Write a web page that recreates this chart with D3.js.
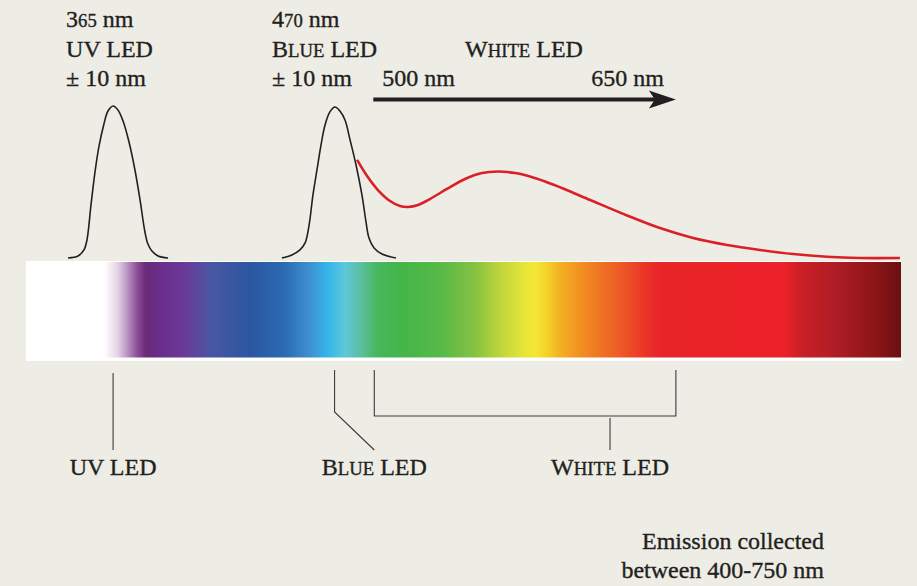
<html>
<head>
<script src="https://d3js.org/d3.v7.min.js"></script>
<style type="text/css">
    body { margin: 0; background: #edede6; }
    text { font-family: "Liberation Serif", "Times New Roman", serif; fill: #231f20; stroke: #231f20; stroke-width: 0.35; }
    .peak { fill: none; stroke: #231f20; stroke-width: 1.6; }
    .white { fill: none; stroke: #dc1f26; stroke-width: 2.6; }
    .guide { fill: none; stroke: #3a3a3a; stroke-width: 1.1; }
</style>
</head>
<body>
<svg id="chart"></svg>
<script>
var W = 917, H = 586;

// LED centres and white-LED band (nm, as drawn)
var uvCenter = 365, blueCenter = 470;
var whiteBand = [488, 630];
var whiteLabelAt = 599;

// emission profiles: [wavelength nm, relative intensity]
var uvPeak = [
    [343.8, 0], [348.5, 0.013], [351.3, 0.053], [352.7, 0.118], [354.6, 0.349],
    [356.5, 0.566], [358.4, 0.737], [360.7, 0.882], [362.6, 0.967], [365.0, 1],
    [367.3, 0.974], [369.7, 0.901], [372.5, 0.763], [375.3, 0.579], [377.7, 0.382],
    [380.0, 0.171], [381.4, 0.092], [383.3, 0.046], [386.2, 0.013], [390.9, 0]
];
var bluePeak = [
    [444.5, 0], [449.2, 0.02], [453.0, 0.053], [455.4, 0.099], [457.3, 0.217],
    [459.1, 0.414], [461.0, 0.579], [462.9, 0.743], [464.8, 0.875], [467.1, 0.961],
    [469.5, 0.993], [471.8, 0.967], [474.2, 0.908], [476.6, 0.776], [479.4, 0.612],
    [482.2, 0.414], [484.1, 0.237], [485.5, 0.132], [487.9, 0.066], [491.6, 0.026],
    [498.2, 0]
];
var whiteCurve = [
    [479.9, 0.645], [484.6, 0.539], [489.7, 0.447], [495.4, 0.375], [500.1, 0.342],
    [503.9, 0.336], [508.6, 0.349], [514.2, 0.388], [522.2, 0.454], [530.7, 0.520],
    [538.7, 0.559], [546.3, 0.569], [554.3, 0.559], [561.3, 0.536], [568.4, 0.503],
    [576.9, 0.457], [589.6, 0.382], [607.0, 0.280], [622.5, 0.197], [638.1, 0.132],
    [654.1, 0.086], [669.6, 0.053], [685.2, 0.026], [701.2, 0.008], [716.7, 0],
    [735.5, 0]
];

// spectrum bar colour stops: [wavelength nm, colour]
var spectrumStops = [
    [324, "#ffffff"], [361, "#ffffff"], [367, "#e6d4e6"], [372, "#b690bf"],
    [376.7, "#8a4a96"], [380.5, "#6b2a78"], [389.4, "#6a2f8e"], [399, "#6a3a98"],
    [410.6, "#4a56a2"], [429.5, "#2c56a1"], [446, "#2a6bb2"], [457.7, "#3f91d0"],
    [466.2, "#34b6ea"], [474.2, "#5fc7da"], [481.3, "#5cbfa2"], [489.7, "#48b65c"],
    [500.1, "#44b549"], [519, "#56b948"], [535.4, "#86c242"], [547.2, "#bed53a"],
    [556.6, "#dfe23b"], [563.7, "#f5e834"], [569.8, "#f4cf29"], [575.4, "#f3b022"],
    [589.6, "#f08221"], [603.7, "#ed5a26"], [615.5, "#ea3526"], [622.5, "#e82428"],
    [681.4, "#ec2129"], [688.4, "#cb2026"], [707.3, "#ab1c25"], [721.4, "#911618"],
    [736, "#6c0f12"]
];

var topLabels = {
    uv: ["365 nm", "UV LED", "\u00b1 10 nm"],
    blue: ["470 nm", "BLUE LED", "\u00b1 10 nm"]
};
var bandLabels = ["500 nm", "650 nm"];
var footnote = ["Emission collected", "between 400-750 nm"];

var svg = d3.select("#chart").attr("width", W).attr("height", H);
svg.append("rect").attr("width", W).attr("height", H).attr("fill", "#edede6");

var x = d3.scaleLinear().domain([324, 736]).range([26, 901]);
var y = d3.scaleLinear().domain([0, 1]).range([258, 106]);

// spectrum bar
var grad = svg.append("defs").append("linearGradient")
    .attr("id", "spec").attr("gradientUnits", "userSpaceOnUse")
    .attr("x1", x(324)).attr("x2", x(736)).attr("y1", 0).attr("y2", 0);
grad.selectAll("stop").data(spectrumStops).enter().append("stop")
    .attr("offset", function(d){ return (x(d[0]) - x(324)) / (x(736) - x(324)); })
    .attr("stop-color", function(d){ return d[1]; });

svg.append("rect").attr("x", x(324)).attr("y", 261)
    .attr("width", x(736) - x(324)).attr("height", 100).attr("fill", "#ffffff");
svg.append("rect").attr("x", x(324)).attr("y", 262)
    .attr("width", x(736) - x(324)).attr("height", 95.5).attr("fill", "url(#spec)");

// emission curves
var line = d3.line()
    .x(function(d){ return x(d[0]); })
    .y(function(d){ return y(d[1]); })
    .curve(d3.curveCatmullRom.alpha(0.5));

svg.append("path").attr("class", "white").attr("d", line(whiteCurve));
svg.append("path").attr("class", "peak").attr("d", line(uvPeak));
svg.append("path").attr("class", "peak").attr("d", line(bluePeak));

// small-caps helper
function smallCaps(t, word, size) {
    word.split(" ").forEach(function(w, i){
        if (i > 0) t.append("tspan").attr("font-size", size).text(" ");
        if (w === w.toUpperCase() && w.length > 2 && w !== "LED") {
            t.append("tspan").attr("font-size", size).text(w[0]);
            t.append("tspan").attr("font-size", size * 0.78).text(w.slice(1));
        } else {
            t.append("tspan").attr("font-size", size).text(w);
        }
    });
}

var fs = 24;
function block(lines, left, top) {
    lines.forEach(function(s, i){
        var t = svg.append("text").attr("x", left).attr("y", top + i * 29.5).attr("font-size", fs);
        smallCaps(t, s, fs);
    });
}
block(topLabels.uv, x(uvCenter) - 47, 27);
block(topLabels.blue, x(blueCenter) - 64, 27);

var wt = svg.append("text").attr("x", 465).attr("y", 57).attr("font-size", fs);
smallCaps(wt, "WHITE LED", fs);

svg.append("text").attr("x", x(whiteBand[0]) + 8).attr("y", 86).attr("font-size", fs).text(bandLabels[0]);
svg.append("text").attr("x", x(whiteBand[1]) - 12).attr("y", 86).attr("font-size", fs)
    .attr("text-anchor", "end").text(bandLabels[1]);

// arrow
var ay = 99.5, ax0 = x(whiteBand[0]) - 1, ax1 = x(whiteBand[1]);
svg.append("line").attr("x1", ax0).attr("x2", ax1 - 20).attr("y1", ay).attr("y2", ay)
    .attr("stroke", "#231f20").attr("stroke-width", 4);
svg.append("path")
    .attr("d", "M" + ax1 + "," + ay + " L" + (ax1 - 27) + "," + (ay - 9) +
        " L" + (ax1 - 21) + "," + ay + " L" + (ax1 - 27) + "," + (ay + 9) + " Z")
    .attr("fill", "#231f20");

// lower guide lines
svg.append("path").attr("class", "guide")
    .attr("d", "M" + x(uvCenter) + ",373 V450");
svg.append("path").attr("class", "guide")
    .attr("d", "M" + (x(blueCenter) - 1.5) + ",370 V412 L" + x(whiteBand[0]) + ",450");
svg.append("path").attr("class", "guide")
    .attr("d", "M" + x(whiteBand[0]) + ",370 V416 H" + x(whiteBand[1]) + " V370");
svg.append("path").attr("class", "guide")
    .attr("d", "M" + x(whiteLabelAt) + ",418 V450");

function bottomLabel(s, cx) {
    var t = svg.append("text").attr("x", cx).attr("y", 475)
        .attr("font-size", fs).attr("text-anchor", "middle");
    smallCaps(t, s, fs);
}
bottomLabel("UV LED", x(uvCenter));
bottomLabel("BLUE LED", x(whiteBand[0]));
bottomLabel("WHITE LED", x(whiteLabelAt));

footnote.forEach(function(s, i){
    svg.append("text").attr("x", 824).attr("y", 549 + i * 29)
        .attr("font-size", fs).attr("text-anchor", "end").text(s);
});
</script>
</body>
</html>
